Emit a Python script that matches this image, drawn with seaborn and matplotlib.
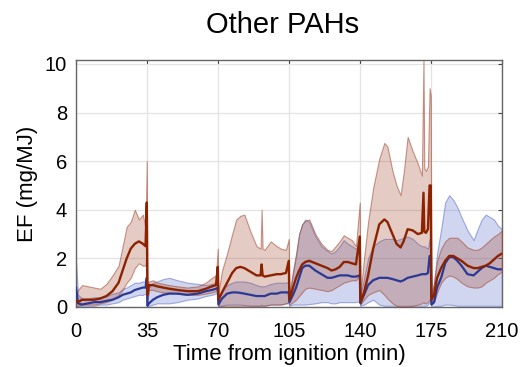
import numpy as np
import pandas as pd
import matplotlib
matplotlib.use("Agg")
import matplotlib.pyplot as plt
import seaborn as sns

# ---- data ----
time = [0, 1, 3, 6, 9, 12, 15, 18, 21, 23, 25, 27, 29, 31, 33, 34.3, 34.9,
        35.2, 36, 38, 40, 43, 46, 50, 55, 60, 64, 67, 69, 69.9,
        70.2, 72, 74.5, 77, 79, 81, 83, 86, 89, 91, 91.5, 92, 93, 96, 99, 101, 103.5, 104.9,
        105.2, 107, 108.5, 110, 111.5, 113, 115, 118, 121, 124, 126, 128, 130, 132, 134, 136, 138, 139.9,
        140.2, 142, 144, 146.5, 149.5, 152, 153.5, 156, 158, 160, 161.5, 163.5, 166, 168.5, 170.5,
        171.3, 171.7, 172.5, 173.5, 174.3, 174.9,
        175.2, 176.5, 178, 180, 182, 184, 186, 188, 190, 193, 196, 198, 200, 202, 204, 206, 208, 210]

red_mean = [0.25, 0.2, 0.3, 0.3, 0.3, 0.35, 0.45, 0.65, 1.0, 1.5, 2.0, 2.4, 2.6, 2.7, 2.6, 2.5, 4.3,
            0.5, 0.9, 0.9, 0.85, 0.8, 0.75, 0.7, 0.65, 0.65, 0.75, 0.85, 0.9, 1.65,
            0.3, 0.6, 1.0, 1.4, 1.6, 1.65, 1.6, 1.45, 1.3, 1.3, 1.75, 1.3, 1.25, 1.3, 1.35, 1.35, 1.4, 1.9,
            0.3, 0.8, 1.2, 1.5, 1.75, 1.85, 1.9, 1.8, 1.7, 1.6, 1.5, 1.55, 1.65, 1.85, 1.85, 1.8, 1.75, 2.9,
            0.2, 0.6, 1.3, 2.4, 3.4, 3.6, 3.5, 3.0, 2.6, 2.45, 2.7, 3.2, 3.15, 3.0, 3.05,
            4.7, 3.1, 3.05, 3.2, 5.0, 5.0,
            0.3, 0.5, 1.2, 1.6, 1.9, 2.1, 2.1, 2.0, 1.9, 1.7, 1.6, 1.6, 1.65, 1.7, 1.8, 1.95, 2.1, 2.2]

red_low = [0.05, 0.05, 0.1, 0.1, 0.1, 0.15, 0.2, 0.3, 0.5, 0.7, 1.0, 1.2, 1.6, 1.8, 1.7, 1.7, 2.5,
           0.3, 0.7, 0.7, 0.65, 0.6, 0.6, 0.55, 0.5, 0.5, 0.55, 0.6, 0.65, 0.8,
           0.05, 0.05, 0.05, 0.05, 0.05, 0.05, 0.05, 0.05, 0.05, 0.05, 0.1, 0.05, 0.05, 0.1, 0.1, 0.1, 0.15, 0.2,
           0.1, 0.2, 0.3, 0.45, 0.6, 0.75, 0.8, 0.75, 0.7, 0.65, 0.7, 0.8, 0.9, 1.0, 1.05, 1.1, 1.1, 1.3,
           0.1, 0.3, 0.5, 0.6, 0.7, 0.5, 0.35, 0.15, 0.05, 0.02, 0.02, 0.02, 0.05, 0.1, 0.15,
           0.2, 0.15, 0.15, 0.2, 0.3, 0.3,
           0.1, 0.2, 0.6, 1.0, 1.2, 1.3, 1.25, 1.15, 1.0, 0.85, 0.8, 0.8, 0.85, 1.0, 1.1, 1.2, 1.35, 1.45]

red_high = [0.6, 0.7, 0.9, 0.85, 0.8, 0.75, 0.95, 1.3, 1.7, 2.5, 3.3, 3.5, 4.0, 3.6, 3.8, 3.2, 6.0,
            0.7, 1.05, 1.1, 1.0, 0.95, 0.9, 0.85, 0.8, 0.85, 1.0, 1.2, 1.3, 2.4,
            0.6, 1.5, 2.2, 3.0, 3.6, 3.75, 3.8, 3.1, 2.5, 2.4, 4.0, 2.4, 2.35, 2.7, 2.5, 2.4, 2.35, 2.8,
            0.5, 1.5, 2.2, 3.0, 3.4, 3.55, 3.6, 3.0, 2.6, 2.35, 2.3, 2.5, 2.7, 2.95, 2.85, 2.75, 2.5, 4.3,
            0.5, 2.0, 3.5, 4.9, 6.1, 6.75, 6.6, 5.6, 5.0, 4.6, 5.5, 7.0, 6.4, 5.9, 5.4,
            10.2, 5.7, 5.6, 5.8, 9.0, 8.7,
            0.5, 1.0, 1.9, 2.4, 2.7, 2.85, 2.85, 2.85, 2.7, 2.45, 2.35, 2.35, 2.45, 2.6, 2.75, 2.9, 3.0, 3.15]

blue_mean = [0.8, 0.15, 0.1, 0.15, 0.2, 0.2, 0.25, 0.3, 0.4, 0.5, 0.55, 0.6, 0.7, 0.75, 0.8, 0.8, 1.2,
             0.05, 0.15, 0.3, 0.4, 0.5, 0.55, 0.55, 0.5, 0.55, 0.65, 0.7, 0.75, 0.8,
             0.1, 0.35, 0.55, 0.6, 0.6, 0.58, 0.55, 0.5, 0.45, 0.45, 0.45, 0.45, 0.45, 0.55, 0.55, 0.6, 0.6, 0.6,
             0.2, 0.5, 0.8, 1.2, 1.6, 1.7, 1.7, 1.5, 1.35, 1.2, 1.2, 1.25, 1.3, 1.3, 1.3, 1.25, 1.25, 1.3,
             0.15, 0.5, 0.9, 1.1, 1.2, 1.2, 1.2, 1.15, 1.1, 1.05, 1.1, 1.2, 1.25, 1.3, 1.35,
             1.35, 1.35, 1.35, 1.4, 2.1, 2.1,
             0.1, 0.2, 0.8, 1.2, 1.8, 2.05, 2.05, 1.9, 1.7, 1.35, 1.3, 1.45, 1.6, 1.7, 1.65, 1.6, 1.55, 1.55]

blue_low = [0.02, 0.02, 0.05, 0.05, 0.05, 0.1, 0.1, 0.15, 0.2, 0.3, 0.35, 0.4, 0.45, 0.5, 0.5, 0.55, 0.6,
            0.02, 0.05, 0.1, 0.15, 0.15, 0.15, 0.2, 0.3, 0.35, 0.45, 0.5, 0.55, 0.6,
            0.02, 0.05, 0.1, 0.1, 0.1, 0.1, 0.08, 0.05, 0.05, 0.05, 0.05, 0.05, 0.05, 0.1, 0.1, 0.1, 0.15, 0.15,
            0.05, 0.1, 0.1, 0.1, 0.1, 0.1, 0.12, 0.15, 0.2, 0.2, 0.15, 0.15, 0.2, 0.2, 0.2, 0.2, 0.2, 0.25,
            0.05, 0.1, 0.2, 0.3, 0.1, 0.05, 0.05, 0.05, 0.05, 0.05, 0.05, 0.05, 0.05, 0.05, 0.05,
            0.05, 0.05, 0.05, 0.1, 0.2, 0.2,
            0.02, 0.02, 0.05, 0.05, 0.1, 0.1, 0.08, 0.05, 0.05, 0.05, 0.05, 0.05, 0.05, 0.05, 0.05, 0.05, 0.05, 0.05]

blue_high = [1.9, 0.5, 0.35, 0.35, 0.4, 0.4, 0.45, 0.55, 0.6, 0.75, 0.8, 0.9, 1.0, 1.0, 1.05, 1.05, 1.3,
             0.2, 0.8, 1.0, 1.05, 1.15, 1.2, 1.1, 1.0, 0.95, 0.9, 0.95, 1.0, 1.1,
             0.3, 0.7, 0.9, 1.0, 1.05, 1.05, 1.05, 1.0, 0.9, 0.85, 0.85, 0.85, 0.85, 0.95, 1.0, 1.0, 1.0, 1.05,
             0.4, 1.4, 2.1, 3.0, 3.4, 3.6, 3.5, 2.9, 2.5, 2.3, 2.2, 2.3, 2.5, 2.75, 2.6, 2.5, 2.4, 2.5,
             0.4, 1.2, 2.0, 2.5, 2.7, 2.8, 2.8, 2.8, 2.75, 2.8, 2.85, 2.9, 2.8, 2.6, 2.5,
             2.5, 2.5, 2.45, 2.4, 2.8, 2.8,
             0.3, 1.0, 2.2, 3.2, 4.3, 4.6, 4.4, 4.1, 3.7, 3.15, 2.75, 3.2, 3.6, 3.8, 3.7, 3.6, 3.35, 3.2]

x_ticks = [0, 35, 70, 105, 140, 175, 210]
y_ticks = [0, 2, 4, 6, 8, 10]
title = "Other PAHs"
x_label = "Time from ignition (min)"
y_label = "EF (mg/MJ)"

# ---- styling ----
sns.set_theme(style="white")
plt.rcParams['font.family'] = ['Liberation Sans', 'DejaVu Sans']

red_line = "#8C2200"
red_fill = (0.63, 0.27, 0.18)
blue_line = "#2B3895"
blue_fill = (0.35, 0.43, 0.78)

df = pd.DataFrame({"time": time, "red": red_mean, "blue": blue_mean})

fig = plt.figure(figsize=(5.24, 3.67), dpi=100)
ax = fig.add_axes([0.145, 0.1635, 0.813, 0.673])

ax.fill_between(time, blue_low, blue_high, facecolor=blue_fill + (0.28,),
                edgecolor=blue_fill + (0.55,), linewidth=0.8, zorder=2)
ax.fill_between(time, red_low, red_high, facecolor=red_fill + (0.28,),
                edgecolor=red_fill + (0.55,), linewidth=0.8, zorder=3)
sns.lineplot(data=df, x="time", y="blue", color=blue_line, linewidth=1.6, ax=ax, zorder=4)
sns.lineplot(data=df, x="time", y="red", color=red_line, linewidth=1.7, ax=ax, zorder=5)

ax.set_xlim(0, 210)
ax.set_ylim(0, 10.16)
ax.set_xticks(x_ticks)
ax.set_yticks(y_ticks)
ax.grid(True, color="#E3E3E3", linewidth=0.9, zorder=0)
ax.set_axisbelow(True)
for s in ax.spines.values():
    s.set_visible(True)
    s.set_color("#666666")
    s.set_linewidth(1.0)
ax.tick_params(direction="in", length=3, width=0.8, color="#444444",
               top=True, right=True, labelsize=14.5, labelcolor="black")
ax.tick_params(axis="x", pad=10.5)
ax.tick_params(axis="y", pad=6.5)
ax.set_title(title, fontsize=21, color="black", pad=19.8, x=0.484)
ax.set_xlabel(x_label, fontsize=16, color="black", labelpad=2.5)
ax.set_ylabel(y_label, fontsize=16, color="black", labelpad=5)

fig.savefig("out.png", dpi=100)
